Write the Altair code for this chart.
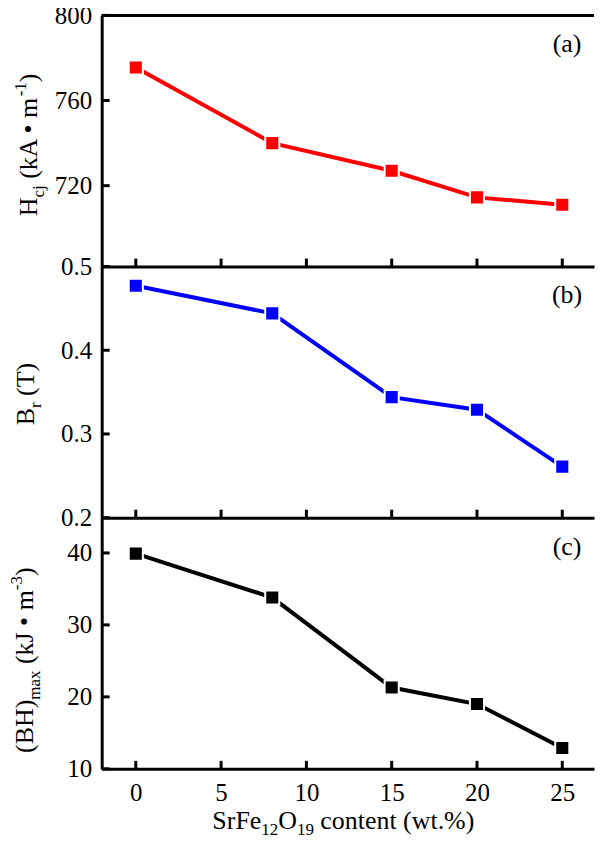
import altair as alt
import pandas as pd

# ---- data ----
x_vals = [0, 8, 15, 20, 25]
hcj = [775.5, 740.0, 727.0, 714.5, 711.0]
br = [0.477, 0.444, 0.344, 0.329, 0.261]
bh = [39.9, 33.8, 21.3, 19.0, 12.9]
x_ticks = [0, 5, 10, 15, 20, 25]
hcj_ticks = [720, 760, 800]
br_ticks = [0.2, 0.3, 0.4, 0.5]
bh_ticks = [10, 20, 30, 40]

FONT = "Liberation Serif"
F = 25      # tick label size
TF = 26     # title size
S = 17      # sub/superscript size
W, H = 494, 252

# Times-like advance widths (per 1000 em)
TW = {" ": 250, "(": 333, ")": 333, "k": 500, "A": 722, "•": 350, "m": 778,
      "H": 722, "c": 444, "j": 278, "B": 667, "r": 333, "T": 611, "J": 389,
      "a": 444, "x": 500, "S": 556, "F": 556, "e": 444, "O": 722, "o": 500,
      "n": 500, "t": 278, "w": 722, ".": 250, "%": 833, "-": 333}


def tw(s, size):
    return sum(TW.get(ch, 500) for ch in s) / 1000 * size


def title_pieces(pieces, center, base, rotated):
    """pieces: list of (text, size, shift). Returns list of text charts."""
    total = sum(tw(t, s) for t, s, _ in pieces)
    pos = center + total / 2 if rotated else center - total / 2
    out = []
    for t, s, sh in pieces:
        lead = len(t) - len(t.lstrip(" "))
        gap = tw(" " * lead, s)
        txt = t.lstrip(" ")
        if rotated:
            pos -= gap
            c = alt.Chart(pd.DataFrame({"t": [txt]})).mark_text(
                angle=270, align="left", baseline="alphabetic", font=FONT,
                fontSize=s, color="black").encode(
                text="t:N", x=alt.value(base + sh), y=alt.value(pos))
            pos -= tw(txt, s)
        else:
            pos += gap
            c = alt.Chart(pd.DataFrame({"t": [txt]})).mark_text(
                align="left", baseline="alphabetic", font=FONT,
                fontSize=s, color="black").encode(
                text="t:N", x=alt.value(pos), y=alt.value(base + sh))
            pos += tw(txt, s)
        out.append(c)
    return out


xscale = alt.Scale(domain=[-2, 26.86], nice=False, zero=False)


def panel(values, color, ydomain, yticks, fmt, tag, tpieces, tcenter, tbase, bottom):
    yscale = alt.Scale(domain=ydomain, nice=False, zero=False)
    yaxis = alt.Axis(values=yticks, format=fmt, ticks=False, tickSize=0,
                     domainWidth=3, domainColor="black", labelFont=FONT,
                     labelFontSize=F, labelPadding=10, labelColor="black",
                     grid=False, title=None)
    if bottom:
        xaxis = alt.Axis(values=x_ticks, format="d", ticks=False, tickSize=0,
                         domainWidth=3, domainColor="black", labelFont=FONT,
                         labelFontSize=F, labelPadding=12, labelColor="black",
                         labelFlush=False, grid=False, title=None)
    else:
        xaxis = alt.Axis(values=x_ticks, labels=False, ticks=False, tickSize=0,
                         domainWidth=3, domainColor="black", grid=False,
                         title=None)
    X = alt.X("x:Q", scale=xscale, axis=xaxis)
    Y = alt.Y("y:Q", scale=yscale, axis=yaxis)

    df = pd.DataFrame({"x": x_vals, "y": values})
    line = alt.Chart(df).mark_line(color=color, strokeWidth=4).encode(x=X, y=Y)
    pts = alt.Chart(df).mark_point(shape="square", filled=True, fill=color,
                                   stroke="white", strokeWidth=2, size=200,
                                   opacity=1).encode(x=X, y=Y)
    ytick_rules = alt.Chart(pd.DataFrame({"y": yticks})).mark_rule(
        color="black", strokeWidth=3).encode(y=Y, x=alt.value(0), x2=alt.value(8))
    xtick_rules = alt.Chart(pd.DataFrame({"x": x_ticks})).mark_rule(
        color="black", strokeWidth=3).encode(x=X, y=alt.value(H), y2=alt.value(H - 8))
    tag_text = alt.Chart(pd.DataFrame({"t": [tag]})).mark_text(
        font=FONT, fontSize=TF, color="black", align="center", baseline="middle").encode(
        text="t:N", x=alt.value(467), y=alt.value(29))
    layers = [line, pts, ytick_rules, xtick_rules, tag_text]
    layers += title_pieces(tpieces, tcenter, tbase, True)
    return alt.layer(*layers).properties(width=W, height=H)


p1 = panel(hcj, "#ff0000", [682, 800], hcj_ticks, "d", "(a)",
           [("H", TF, 0), ("cj", S, 7), (" (kA • m", TF, 0), ("-1", S, -11), (")", TF, 0)],
           130, -64.5, False)
p1 = alt.layer(p1, alt.Chart(pd.DataFrame({"a": [0]})).mark_rule(
    color="black", strokeWidth=3).encode(x=alt.value(0), x2=alt.value(W), y=alt.value(0)))

p2 = panel(br, "#0000ff", [0.2, 0.5], br_ticks, ".1f", "(b)",
           [("B", TF, 0), ("r", S, 7), (" (T)", TF, 0)],
           128, -67.5, False)

p3 = panel(bh, "#000000", [10, 44.9], bh_ticks, "d", "(c)",
           [("(BH)", TF, 0), ("max", S, 7), (" (kJ • m", TF, 0), ("-3", S, -11), (")", TF, 0)],
           143, -68.5, True)
p3 = alt.layer(p3, *title_pieces(
    [("SrFe", TF, 0), ("12", S, 6), ("O", TF, 0), ("19", S, 6), (" content (wt.%)", TF, 0)],
    242.5, 312, False))

chart = alt.vconcat(p1, p2, p3, spacing=0, bounds="flush").properties(
    padding={"left": 0, "top": -6, "right": 0, "bottom": 0}
).configure_view(stroke=None)

chart.save("out.html", embed_options={"renderer": "svg", "actions": False})
